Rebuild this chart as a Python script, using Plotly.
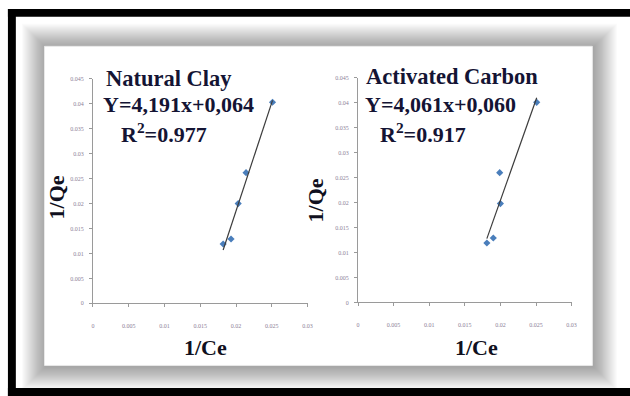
import numpy as np
import plotly.graph_objects as go

W, H = 630, 396

# 1/Ce and 1/Qe values for each adsorbent
clay_inv_ce = [0.0182, 0.0193, 0.0203, 0.0214, 0.0251]
clay_inv_qe = [0.0119, 0.0129, 0.0200, 0.0262, 0.0403]
carbon_inv_ce = [0.0181, 0.0190, 0.0200, 0.0199, 0.0251]
carbon_inv_qe = [0.0119, 0.0129, 0.0198, 0.0260, 0.0401]

panel_titles = ["Natural Clay", "Activated Carbon"]
equations = ["Y=4,191x+0,064", "Y=4,061x+0,060"]
r_squared = ["R<sup>2</sup>=0.977", "R<sup>2</sup>=0.917"]

x_ticks = [0, 0.005, 0.01, 0.015, 0.02, 0.025, 0.03]
x_tick_text = ["0", "0.005", "0.01", "0.015", "0.02", "0.025", "0.03"]
y_ticks = [0, 0.005, 0.01, 0.015, 0.02, 0.025, 0.03, 0.035, 0.04, 0.045]
y_tick_text = ["0", "0.005", "0.01", "0.015", "0.02", "0.025", "0.03", "0.035", "0.04", "0.045"]


def px_x(p):
    return p / W


def px_y(p):
    return 1 - p / H


fig = go.Figure()

series = [(clay_inv_ce, clay_inv_qe), (carbon_inv_ce, carbon_inv_qe)]
for i, (xs, ys) in enumerate(series):
    ax = "" if i == 0 else str(i + 1)
    fig.add_trace(go.Scatter(
        x=xs, y=ys, mode="markers", xaxis="x" + ax, yaxis="y" + ax,
        marker=dict(symbol="diamond", size=5.5, color="#4a7ebb"),
        showlegend=False))
    slope, intercept = np.polyfit(xs, ys, 1)
    lx = np.array([min(xs), max(xs)])
    fig.add_trace(go.Scatter(
        x=lx, y=slope * lx + intercept, mode="lines", xaxis="x" + ax, yaxis="y" + ax,
        line=dict(color="#3c3c3c", width=1.2), showlegend=False))

# plot-area boxes (pixels): left, right, top(0.045), bottom(0)
areas = [(92, 309, 77, 305), (360, 576, 76, 304)]

axis_common = dict(
    showgrid=False, zeroline=False, showline=True, linecolor="#9a9a9a", linewidth=1,
    ticks="outside", tickcolor="#9a9a9a", ticklen=3,
    tickfont=dict(family="Liberation Serif", size=6, color="#8c8096"),
)

for i, (l, r, t, b) in enumerate(areas):
    ax = "" if i == 0 else str(i + 1)
    xa = dict(axis_common, domain=[px_x(l), px_x(r)], range=[0, 0.03],
              tickvals=x_ticks, ticktext=x_tick_text, ticklabelstandoff=13,
              anchor="y" + ax)
    ya = dict(axis_common, domain=[px_y(b), px_y(t)], range=[0, 0.045],
              tickvals=y_ticks, ticktext=y_tick_text, ticklabelstandoff=4,
              anchor="x" + ax)
    fig.layout["xaxis" + ax] = xa
    fig.layout["yaxis" + ax] = ya

shapes = []
# soft drop shadow around the white panel
pl, pr, pt, pb = 43, 597, 44, 368
for k in range(1, 25):
    shapes.append(dict(
        type="rect", xref="paper", yref="paper", layer="below",
        x0=px_x(pl - k + 1), x1=px_x(pr + k + 1),
        y0=px_y(pb + k + 1), y1=px_y(pt - k + 1),
        line=dict(width=0), fillcolor="rgba(0,0,0,0.016)"))
shapes.append(dict(
    type="rect", xref="paper", yref="paper", layer="below",
    x0=px_x(pl), x1=px_x(pr), y0=px_y(pb), y1=px_y(pt),
    line=dict(color="#e8e8e8", width=1), fillcolor="white"))
# black outer frame
for (x0, x1, y0, y1) in [(6, 640, 6, 14), (6, 14, 6, 400), (6, 640, 391, 400)]:
    shapes.append(dict(
        type="rect", xref="paper", yref="paper", layer="above",
        x0=px_x(x0), x1=px_x(x1), y0=px_y(y1), y1=px_y(y0),
        line=dict(width=0), fillcolor="black"))

text_font = dict(family="Liberation Serif", size=22, color="#141434")
annotations = []
title_pos = [(103, 77), (366, 75)]
eq_pos = [(100, 103), (365, 103)]
r2_pos = [(118, 132), (380, 132)]
for i in range(2):
    annotations.append(dict(
        text="<b>%s</b>" % panel_titles[i], x=px_x(title_pos[i][0]), y=px_y(title_pos[i][1]),
        xref="paper", yref="paper", xanchor="left", yanchor="middle", showarrow=False,
        font=dict(text_font, size=22.5)))
    annotations.append(dict(
        text="<b>%s</b>" % equations[i], x=px_x(eq_pos[i][0]), y=px_y(eq_pos[i][1]),
        xref="paper", yref="paper", xanchor="left", yanchor="middle", showarrow=False,
        font=text_font))
    annotations.append(dict(
        text="<b>%s</b>" % r_squared[i], x=px_x(r2_pos[i][0]), y=px_y(r2_pos[i][1]),
        xref="paper", yref="paper", xanchor="left", yanchor="middle", showarrow=False,
        font=text_font))

for cx, cy in [(55, 197), (317, 200)]:
    annotations.append(dict(
        text="<b>1/Qe</b>", x=px_x(cx), y=px_y(cy), xref="paper", yref="paper",
        xanchor="center", yanchor="middle", textangle=-90, showarrow=False,
        font=dict(text_font, color="#101020")))
for cx, cy in [(206, 350), (480, 350)]:
    annotations.append(dict(
        text="<b>1/Ce</b>", x=px_x(cx), y=px_y(cy), xref="paper", yref="paper",
        xanchor="center", yanchor="middle", showarrow=False,
        font=dict(text_font, color="#101020")))

fig.update_layout(
    width=W, height=H, margin=dict(l=0, r=0, t=0, b=0),
    paper_bgcolor="white", plot_bgcolor="rgba(0,0,0,0)",
    shapes=shapes, annotations=annotations,
)

fig.write_html("out.html")
